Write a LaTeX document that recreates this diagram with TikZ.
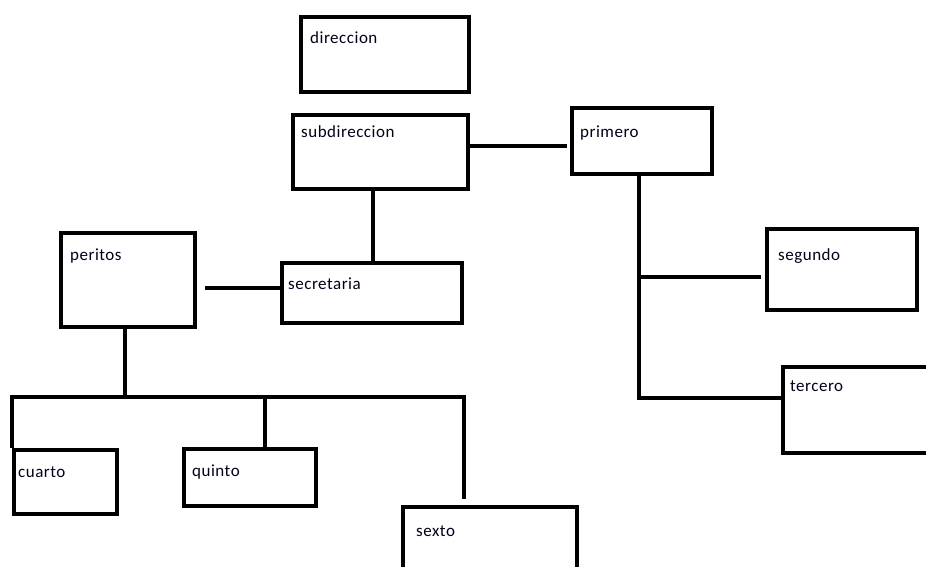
\documentclass[tikz,border=0pt]{standalone}
\usepackage{fontspec}
\setmainfont{Carlito}[LetterSpace=3]
\begin{document}
\begin{tikzpicture}[x=1pt,y=-1pt,
  box/.style={draw=black,line width=4.3pt,inner sep=0pt,anchor=north west,
              minimum width=#1},
  boxh/.style={minimum height=#1},
  link/.style={draw=black,line width=4.3pt,line join=miter},
  txt/.style={anchor=base west,inner sep=0pt,text=black!90!blue,
              font=\fontsize{17}{20}\selectfont}]
\clip (0,0) rectangle (926,567);
\fill[white] (0,0) rectangle (926,567);

% boxes
\node[box=168,boxh=75] (direccion)    at (299,15)  {};
\node[box=175,boxh=74] (subdireccion) at (291,113) {};
\node[box=140,boxh=66] (primero)      at (570,106) {};
\node[box=150,boxh=81] (segundo)      at (765,227) {};
\node[box=160,boxh=86] (tercero)      at (781,365) {};
\node[box=134,boxh=94] (peritos)      at (59,231)  {};
\node[box=180,boxh=60] (secretaria)   at (280,261) {};
\node[box=103,boxh=64] (cuarto)       at (12,448)  {};
\node[box=132,boxh=57] (quinto)       at (182,447) {};
\node[box=174,boxh=80] (sexto)        at (401,505) {};

% labels
\node[txt] (t-direccion)    at (310,44)  {direccion};
\node[txt] (t-subdireccion) at (301,138) {subdireccion};
\node[txt] (t-primero)      at (580,138) {primero};
\node[txt] (t-segundo)      at (778,260) {segundo};
\node[txt] (t-tercero)      at (790,391) {tercero};
\node[txt] (t-peritos)      at (70,260)  {peritos};
\node[txt] (t-secretaria)   at (288,289) {secretaria};
\node[txt] (t-cuarto)       at (18,477)  {cuarto};
\node[txt] (t-quinto)       at (192,476) {quinto};
\node[txt] (t-sexto)        at (416,536) {sexto};

% connection points
\coordinate (sd-r) at ([yshift=6pt]subdireccion.east);
\coordinate (sd-b) at ([xshift=-7.5pt]subdireccion.south);
\coordinate (sc-l) at ([yshift=5pt]secretaria.west);
\coordinate (pr-b) at ([xshift=-3pt]primero.south);
\coordinate (sg-l) at ([yshift=-7.5pt]segundo.west);
\coordinate (tc-l) at ([yshift=12pt]tercero.west);
\coordinate (pe-b) at ([xshift=-3pt]peritos.south);
\coordinate (hub)  at ([yshift=-68pt]pe-b);
\coordinate (cu-t) at (cuarto.north west);
\coordinate (qu-t) at ([xshift=15pt]quinto.north);
\coordinate (sx-t) at ([xshift=-26pt]sexto.north);

% connectors
\draw[link,shorten >=3pt] (sd-r) -- (sd-r -| primero.west);
\draw[link] (sd-b) -- (sd-b |- secretaria.north);
\draw[link,shorten >=8pt] (sc-l) -- (sc-l -| peritos.east);
\draw[link] (pr-b) -- (pr-b |- tc-l) -- (tc-l);
\draw[link,shorten >=4pt] (pr-b |- sg-l) -- (sg-l);
\draw[link] (pe-b) -- (hub);
\draw[link,shorten >=6pt] (cu-t) -- (cu-t |- hub) -- (sx-t |- hub) -- (sx-t);
\draw[link] (qu-t) -- (qu-t |- hub);
\end{tikzpicture}
\end{document}
